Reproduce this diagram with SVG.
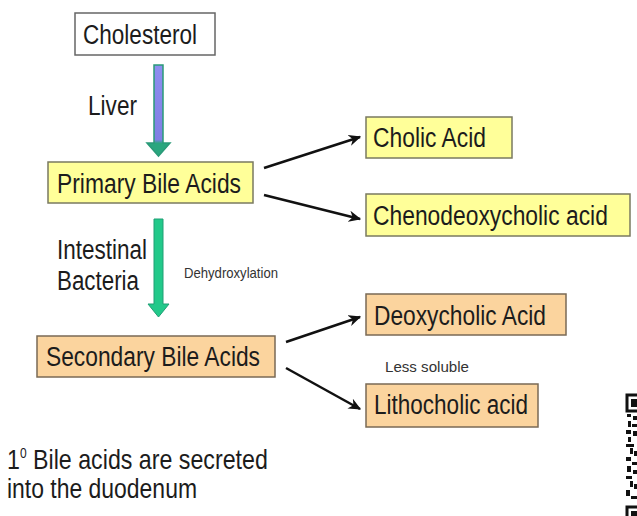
<svg xmlns="http://www.w3.org/2000/svg" width="637" height="516" viewBox="0 0 637 516">
<defs>
<style>
text{font-family:"Liberation Sans",Arial,sans-serif;fill:#1c1c1c}
.big{font-size:27px}
.small{font-size:15px;fill:#333}
.yel{fill:#ffff99;stroke:#7a7a60;stroke-width:1.5}
.org{fill:#fbd49e;stroke:#7a6a55;stroke-width:1.5}
.wht{fill:#fff;stroke:#666;stroke-width:1.5}
.conn{stroke:#111;stroke-width:2.5;fill:none;marker-end:url(#ah)}
</style>
<marker id="ah" viewBox="0 0 10 10" refX="9" refY="5" markerWidth="5" markerHeight="5" orient="auto" markerUnits="strokeWidth">
<path d="M0,0.5 L10,5 L0,9.5 L3,5 Z" fill="#111"/>
</marker>
<linearGradient id="gLiver" x1="0" y1="0" x2="0" y2="1">
<stop offset="0" stop-color="#8e8ef0"/>
<stop offset="0.82" stop-color="#7f7fe4"/>
<stop offset="0.86" stop-color="#2aa67e"/>
<stop offset="1" stop-color="#2aa67e"/>
</linearGradient>
</defs>

<g id="cholesterol">
<rect class="wht" x="75" y="13" width="140" height="42"/>
<text class="big" x="83" y="44" textLength="114" lengthAdjust="spacingAndGlyphs">Cholesterol</text>
</g>
<g id="primary">
<rect class="yel" x="48" y="162" width="205" height="41"/>
<text class="big" x="57" y="193" textLength="184" lengthAdjust="spacingAndGlyphs">Primary Bile Acids</text>
</g>
<g id="secondary">
<rect class="org" x="37" y="336" width="238" height="41"/>
<text class="big" x="46" y="366" textLength="214" lengthAdjust="spacingAndGlyphs">Secondary Bile Acids</text>
</g>
<g id="cholic">
<rect class="yel" x="366" y="117" width="146" height="41"/>
<text class="big" x="373" y="147" textLength="113" lengthAdjust="spacingAndGlyphs">Cholic Acid</text>
</g>
<g id="cheno">
<rect class="yel" x="366" y="194" width="264" height="42"/>
<text class="big" transform="translate(373,225) scale(0.846,1)">Chenodeoxycholic acid</text>
</g>
<g id="deoxy">
<rect class="org" x="366" y="294" width="200" height="41"/>
<text class="big" x="374" y="325" textLength="172" lengthAdjust="spacingAndGlyphs">Deoxycholic Acid</text>
</g>
<g id="litho">
<rect class="org" x="366" y="384" width="172" height="43"/>
<text class="big" x="374" y="414" textLength="154" lengthAdjust="spacingAndGlyphs">Lithocholic acid</text>
</g>

<g id="connectors">
<polygon points="154,65 163,65 163,143 170,143 158.5,156 147,143 154,143" fill="url(#gLiver)" stroke="#2a9a78" stroke-width="1.5"/>
<polygon points="154,219 163,219 163,304 169,304 158.5,317 148,304 154,304" fill="#22c98a" stroke="#1f9f74" stroke-width="1"/>
<line class="conn" x1="264" y1="168" x2="360" y2="137"/>
<line class="conn" x1="264" y1="195" x2="360" y2="219"/>
<line class="conn" x1="286" y1="342" x2="360" y2="317"/>
<line class="conn" x1="286" y1="368" x2="360" y2="409"/>
</g>

<g id="labels">
<text class="big" x="88" y="115" textLength="49" lengthAdjust="spacingAndGlyphs">Liver</text>
<text class="big" x="57" y="259" textLength="90" lengthAdjust="spacingAndGlyphs">Intestinal</text>
<text class="big" x="57" y="290" textLength="82" lengthAdjust="spacingAndGlyphs">Bacteria</text>
<text class="small" x="184" y="278" font-size="14" textLength="94" lengthAdjust="spacingAndGlyphs">Dehydroxylation</text>
<text class="small" x="385" y="372" textLength="84" lengthAdjust="spacingAndGlyphs">Less soluble</text>
<text class="big" transform="translate(7,469) scale(0.86,1)">1<tspan dy="-11" font-size="14">0</tspan><tspan dy="11"> Bile acids are secreted</tspan></text>
<text class="big" x="7" y="498" textLength="190" lengthAdjust="spacingAndGlyphs">into the duodenum</text>
</g>

<g id="qr" fill="#111">
<rect x="627" y="395" width="14" height="16" fill="none" stroke="#111" stroke-width="3"/>
<rect x="631" y="399" width="8" height="8"/>
<rect x="627" y="414" width="4" height="3"/>
<rect x="633" y="416" width="4" height="4"/>
<rect x="628" y="421" width="3" height="6"/>
<rect x="632" y="424" width="5" height="3"/>
<rect x="626" y="430" width="5" height="4"/>
<rect x="633" y="431" width="4" height="5"/>
<rect x="628" y="437" width="3" height="5"/>
<rect x="626" y="444" width="8" height="3"/>
<rect x="630" y="448" width="3" height="6"/>
<rect x="634" y="451" width="3" height="5"/>
<rect x="626" y="457" width="5" height="4"/>
<rect x="632" y="462" width="5" height="3"/>
<rect x="627" y="466" width="4" height="6"/>
<rect x="633" y="470" width="4" height="4"/>
<rect x="626" y="476" width="6" height="3"/>
<rect x="630" y="481" width="3" height="6"/>
<rect x="634" y="484" width="3" height="5"/>
<rect x="626" y="490" width="4" height="6"/>
<rect x="631" y="496" width="6" height="3"/>
<rect x="627" y="507" width="14" height="16" fill="none" stroke="#111" stroke-width="3"/>
<rect x="631" y="511" width="8" height="8"/>
</g>
</svg>
